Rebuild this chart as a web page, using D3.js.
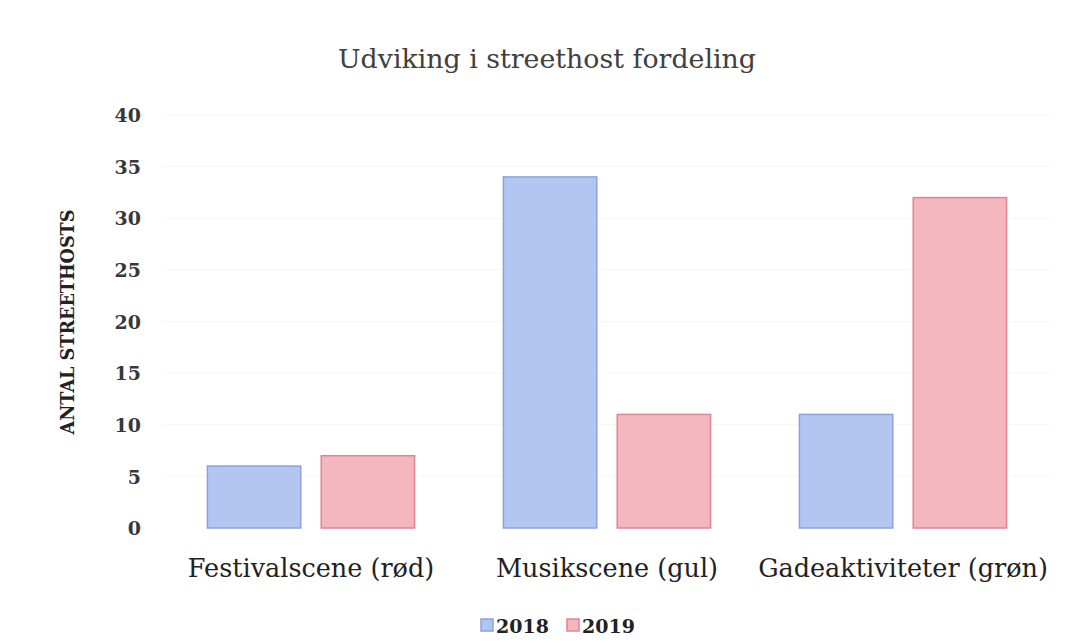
<!DOCTYPE html>
<html><head><meta charset="utf-8">
<script src="https://cdn.jsdelivr.net/npm/d3@7"></script>
<style>body{margin:0;background:#fff}svg{display:block}</style>
</head><body>
<svg id="c" width="1072" height="643"></svg>
<script>
const categories = ["Festivalscene (rød)", "Musikscene (gul)", "Gadeaktiviteter (grøn)"];
const seriesNames = ["2018", "2019"];
const values2018 = [6, 34, 11];
const values2019 = [7, 11, 32];
const yTicks = [0, 5, 10, 15, 20, 25, 30, 35, 40];
const title = "Udviking i streethost fordeling";
const yTitle = "ANTAL STREETHOSTS";

const fills = ["#b3c5f1", "#f4b7c0"];
const strokes = ["#8aa2de", "#e08590"];
const font = "'DejaVu Serif', 'Liberation Serif', serif";

const svg = d3.select("#c");
const m = {left: 163, right: 1051, top: 115, bottom: 528};

const x0 = d3.scaleBand().domain(categories).range([m.left, m.right]).paddingInner(0.3).paddingOuter(0.15);
const x1 = d3.scaleBand().domain(seriesNames).range([0, x0.bandwidth()]).paddingInner(0.18);
const y = d3.scaleLinear().domain([0, 40]).range([m.bottom, m.top]);

// faint gridlines
svg.append("g").selectAll("line").data(yTicks.slice(1)).join("line")
  .attr("x1", m.left).attr("x2", m.right)
  .attr("y1", d => y(d)).attr("y2", d => y(d))
  .attr("stroke", "#f6f6f6").attr("stroke-width", 1);

const data = categories.map((c, i) => ({c, vals: [values2018[i], values2019[i]]}));
svg.append("g").selectAll("g").data(data).join("g")
  .attr("transform", d => `translate(${x0(d.c)},0)`)
  .selectAll("rect").data(d => d.vals.map((v, j) => ({v, s: seriesNames[j], j}))).join("rect")
  .attr("x", d => x1(d.s)).attr("width", x1.bandwidth())
  .attr("y", d => y(d.v)).attr("height", d => y(0) - y(d.v))
  .attr("fill", d => fills[d.j]).attr("stroke", d => strokes[d.j]).attr("stroke-width", 1.5);

// y axis
const ya = svg.append("g").attr("transform", `translate(141,0)`)
  .call(d3.axisLeft(y).tickValues(yTicks).tickSize(0).tickPadding(0));
ya.select(".domain").remove();
ya.selectAll("text").attr("font-family", font).attr("font-size", 19).attr("font-weight", "bold").attr("fill", "#383838").attr("dy", "0.35em");

// x axis labels
const xa = svg.append("g").attr("transform", `translate(0,${m.bottom + 31})`)
  .call(d3.axisBottom(x0).tickSize(0).tickPadding(0));
xa.select(".domain").remove();
xa.selectAll("text").attr("font-family", font).attr("font-size", 25.5).attr("fill", "#222").attr("dy", "0.71em");

// title
svg.append("text").attr("x", 547).attr("y", 68).attr("text-anchor", "middle")
  .attr("font-family", font).attr("font-size", 26.8).attr("fill", "#404040").text(title);

// y title
svg.append("text").attr("transform", `translate(74,322) rotate(-90)`).attr("text-anchor", "middle")
  .attr("font-family", font).attr("font-size", 17.6).attr("font-weight", "bold").attr("fill", "#222").text(yTitle);

// legend
const lg = svg.append("g");
const legX = [481, 567];
seriesNames.forEach((s, i) => {
  lg.append("rect").attr("x", legX[i]).attr("y", 619).attr("width", 12).attr("height", 12)
    .attr("fill", fills[i]).attr("stroke", strokes[i]).attr("stroke-width", 1.5);
  lg.append("text").attr("x", legX[i] + 15).attr("y", 633).attr("font-family", font)
    .attr("font-size", 19).attr("font-weight", "bold").attr("fill", "#222").text(s);
});
</script>
</body></html>
